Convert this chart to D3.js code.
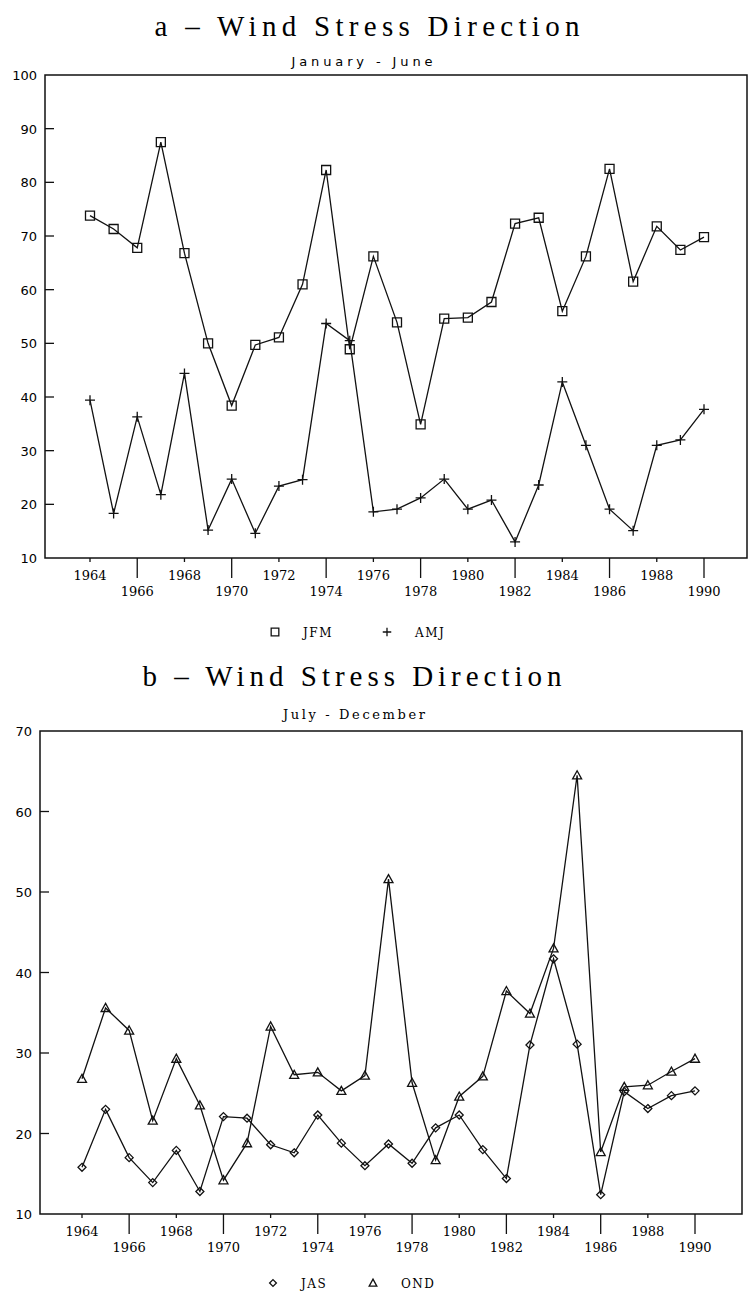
<!DOCTYPE html>
<html>
<head>
<meta charset="utf-8">
<script src="https://cdn.jsdelivr.net/npm/d3@7"></script>
<style>
body { margin: 0; background: #fff; }
</style>
</head>
<body>
<div id="chart"></div>
<script>
// years on the x axis
var years = [1964, 1965, 1966, 1967, 1968, 1969, 1970, 1971, 1972, 1973, 1974, 1975, 1976, 1977,
    1978, 1979, 1980, 1981, 1982, 1983, 1984, 1985, 1986, 1987, 1988, 1989, 1990];

// panel a, January - June
var jfm = [73.8, 71.3, 67.8, 87.5, 66.8, 50.0, 38.4, 49.7, 51.1, 61.0, 82.3, 48.9, 66.2, 53.9,
    34.9, 54.6, 54.8, 57.7, 72.3, 73.4, 56.0, 66.2, 82.5, 61.5, 71.8, 67.4, 69.8];
var amj = [39.4, 18.3, 36.3, 21.8, 44.4, 15.2, 24.7, 14.6, 23.4, 24.6, 53.7, 50.5, 18.6, 19.1,
    21.2, 24.7, 19.1, 20.8, 13.0, 23.6, 42.8, 31.0, 19.1, 15.1, 31.0, 32.0, 37.7];

// panel b, July - December
var jas = [15.8, 23.0, 17.0, 13.9, 17.9, 12.8, 22.1, 21.9, 18.6, 17.6, 22.3, 18.8, 16.0, 18.7,
    16.3, 20.7, 22.3, 18.0, 14.4, 31.0, 41.7, 31.1, 12.4, 25.2, 23.1, 24.7, 25.3];
var ond = [26.8, 35.6, 32.8, 21.6, 29.3, 23.5, 14.2, 18.8, 33.3, 27.3, 27.6, 25.3, 27.2, 51.6,
    26.3, 16.7, 24.6, 27.1, 37.7, 34.9, 43.0, 64.5, 17.7, 25.8, 26.0, 27.7, 29.3];

var xTicks = [1964, 1966, 1968, 1970, 1972, 1974, 1976, 1978, 1980, 1982, 1984, 1986, 1988, 1990];
var yTicksA = [10, 20, 30, 40, 50, 60, 70, 80, 90, 100];
var yTicksB = [10, 20, 30, 40, 50, 60, 70];

var svg = d3.select("#chart")
    .append("svg")
    .attr("width", 754)
    .attr("height", 1296);

// marker shapes, centered on 0,0
function square(s) { return "M" + -s + "," + -s + "h" + 2 * s + "v" + 2 * s + "h" + -2 * s + "Z"; }
function plus(s) { return "M" + -s + ",0h" + 2 * s + "M0," + -s + "v" + 2 * s; }
function diamond(s) { return "M0," + -s + "L" + s + ",0L0," + s + "L" + -s + ",0Z"; }
function triangle(s) { return "M0," + -s + "L" + s + "," + s * 0.8 + "L" + -s + "," + s * 0.8 + "Z"; }

var serif = "'DejaVu Serif', 'Liberation Serif', serif";
var sans = "'DejaVu Sans', 'Liberation Sans', sans-serif";

function panel(p) {
    var x = d3.scaleLinear().domain([1964, 1990]).range([p.x0, p.x1]);
    var y = d3.scaleLinear().domain([p.yTicks[0], p.yTicks[p.yTicks.length - 1]]).range([p.bottom, p.top]);
    var g = svg.append("g");

    // titles
    g.append("text")
        .attr("x", p.titleX).attr("y", p.titleY)
        .attr("text-anchor", "middle")
        .attr("font-family", "'Liberation Serif', serif").attr("font-size", 29)
        .attr("textLength", p.titleW).attr("lengthAdjust", "spacing")
        .text(p.title);
    g.append("text")
        .attr("x", p.subX).attr("y", p.subY)
        .attr("text-anchor", "middle")
        .attr("font-family", p.subFont).attr("font-size", 13)
        .attr("textLength", p.subW).attr("lengthAdjust", "spacing")
        .text(p.subtitle);

    // frame
    g.append("rect")
        .attr("x", p.left).attr("y", p.top)
        .attr("width", p.right - p.left).attr("height", p.bottom - p.top)
        .attr("fill", "none").attr("stroke", "#111").attr("stroke-width", 1.5);

    // y ticks, inward
    g.selectAll(".yt").data(p.yTicks.slice(1, -1)).enter().append("line")
        .attr("x1", p.left).attr("x2", p.left + 9)
        .attr("y1", d => y(d)).attr("y2", d => y(d))
        .attr("stroke", "#111").attr("stroke-width", 1.3);
    g.selectAll(".yl").data(p.yTicks).enter().append("text")
        .attr("x", p.left - 8).attr("y", d => y(d) + 5)
        .attr("text-anchor", "end")
        .attr("font-family", sans).attr("font-size", 13)
        .text(d => d);

    // x ticks, staggered labels
    g.selectAll(".xt").data(xTicks).enter().append("line")
        .attr("x1", d => x(d)).attr("x2", d => x(d))
        .attr("y1", p.bottom).attr("y2", (d, i) => p.bottom + (i % 2 ? 20 : 4))
        .attr("stroke", "#111").attr("stroke-width", 1.3);
    g.selectAll(".xl").data(xTicks).enter().append("text")
        .attr("x", d => x(d)).attr("y", (d, i) => p.bottom + (i % 2 ? 38 : 22))
        .attr("text-anchor", "middle")
        .attr("font-family", serif).attr("font-size", 13)
        .text(d => d);

    // series
    var line = d3.line().x((d, i) => x(years[i])).y(d => y(d));
    p.series.forEach(function (s) {
        g.append("path")
            .attr("d", line(s.values))
            .attr("fill", "none").attr("stroke", "#111").attr("stroke-width", 1.3);
        g.selectAll(null).data(s.values).enter().append("path")
            .attr("transform", (d, i) => "translate(" + x(years[i]) + "," + y(d) + ")")
            .attr("d", s.shape(s.size))
            .attr("fill", "none").attr("stroke", "#111").attr("stroke-width", 1.3);

        // legend entry
        g.append("path")
            .attr("transform", "translate(" + s.legX + "," + p.legY + ")")
            .attr("d", s.shape(s.size * 0.85))
            .attr("fill", "none").attr("stroke", "#111").attr("stroke-width", 1.3);
        g.append("text")
            .attr("x", s.legX + 28).attr("y", p.legY + 5)
            .attr("font-family", serif).attr("font-size", 12)
            .attr("letter-spacing", 1.5)
            .text(s.name);
    });
}

panel({
    title: "a \u2013 Wind Stress Direction", titleX: 367, titleY: 36, titleW: 425,
    subtitle: "January - June", subX: 362, subY: 66, subW: 141, subFont: sans,
    left: 45, right: 747, top: 75, bottom: 558, x0: 90, x1: 704,
    yTicks: yTicksA, legY: 632,
    series: [
        { name: "JFM", values: jfm, shape: square, size: 4.5, legX: 275 },
        { name: "AMJ", values: amj, shape: plus, size: 5, legX: 387 }
    ]
});

panel({
    title: "b \u2013 Wind Stress Direction", titleX: 352, titleY: 686, titleW: 419,
    subtitle: "July - December", subX: 354, subY: 719, subW: 142, subFont: serif,
    left: 40, right: 742, top: 731, bottom: 1214, x0: 82, x1: 695,
    yTicks: yTicksB, legY: 1283,
    series: [
        { name: "JAS", values: jas, shape: diamond, size: 4, legX: 273 },
        { name: "OND", values: ond, shape: triangle, size: 4.5, legX: 373 }
    ]
});
</script>
</body>
</html>
